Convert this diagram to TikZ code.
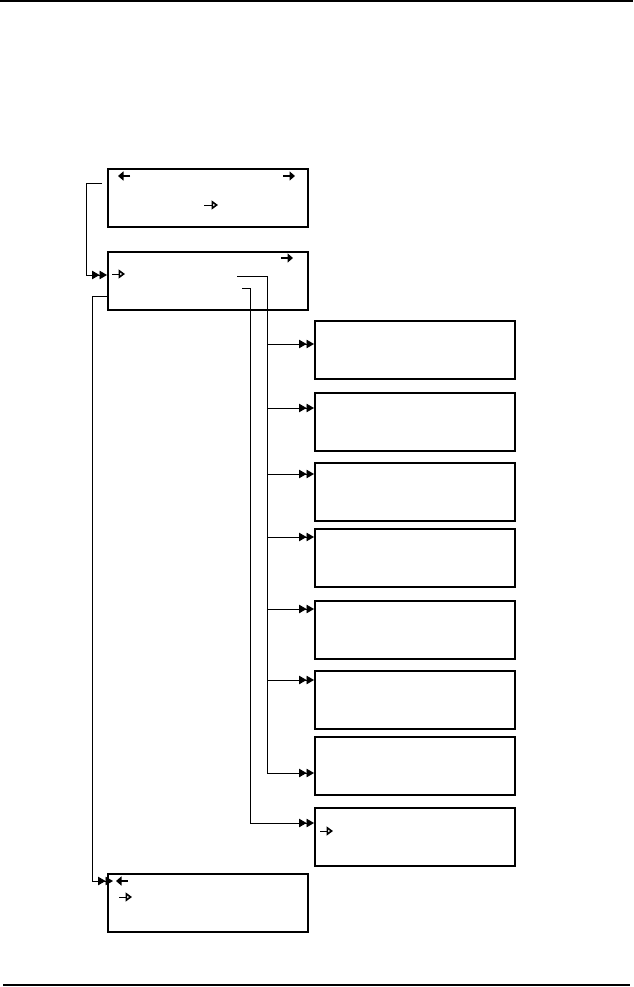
\documentclass[tikz,border=0pt]{standalone}
\usetikzlibrary{arrows.meta}
\tikzset{
 panel/.style={draw, line width=1.6pt, minimum width=200pt, minimum height=58pt, inner sep=0pt, anchor=north west},
 link/.style={line width=0.9pt, -{Triangle[length=7.5pt,width=8.5pt]Triangle[length=7.5pt,width=8.5pt]}},
 wire/.style={line width=0.9pt},
 fullarrow/.style={line width=2pt, -{Triangle[length=5.5pt,width=9pt]}},
 openarrow/.style={line width=1pt, -{Triangle[open,length=6.5pt,width=9pt,line width=1.6pt]}},
 rule/.style={line width=2pt},
}
\begin{document}
\begin{tikzpicture}[x=1pt,y=-1pt]
\useasboundingbox (0,0) rectangle (633,987);
\draw[rule] (0,1) -- (633,1);
\draw[rule,line width=1.5pt] (3,985) -- (630,985);

\node[panel] (p1) at (107,168) {};
\node[panel] (p2) at (107,251) {};
\node[panel] (c1) at (314,320) {};
\node[panel] (c2) at (314,392) {};
\node[panel] (c3) at (314,462) {};
\node[panel] (c4) at (314,528) {};
\node[panel] (c5) at (314,600) {};
\node[panel] (c6) at (314,670) {};
\node[panel] (c7) at (314,736) {};
\node[panel] (c8) at (314,807) {};
\node[panel] (p3) at (107,873) {};

% symbols
\draw[fullarrow] (130,176) -- (118,176);
\draw[fullarrow] (283,176) -- (295,176);
\draw[openarrow] (204,205) -- (218,205);
\draw[fullarrow] (281,258) -- (293,258);
\draw[openarrow] (112,274) -- (125,274);
\draw[openarrow] (320,831) -- (333,831);
\draw[fullarrow] (128,881) -- (116,881);
\draw[openarrow] (119,897) -- (132,897);

% connectors
\coordinate (s1) at (102,183);
\draw[link] (s1) -| (86,275) -- (p2.west |- 0,275);

\coordinate (t1) at (237,276);
\draw[link] (t1) -| (267,773) -- (c7.west |- 0,773);
\draw[link] (267,344) -- (c1.west |- 0,344);
\draw[link] (267,408) -- (c2.west |- 0,408);
\draw[link] (267,474) -- (c3.west |- 0,474);
\draw[link] (267,537) -- (c4.west |- 0,537);
\draw[link] (267,609) -- (c5.west |- 0,609);
\draw[link] (267,680) -- (c6.west |- 0,680);

\coordinate (t2) at (242,288);
\draw[link] (t2) -| (250,823) -- (c8.west |- 0,823);

\draw[link] (p2.west |- 0,296) -| (92,881) -- ([xshift=6pt]p3.west |- 0,881);
\end{tikzpicture}
\end{document}
